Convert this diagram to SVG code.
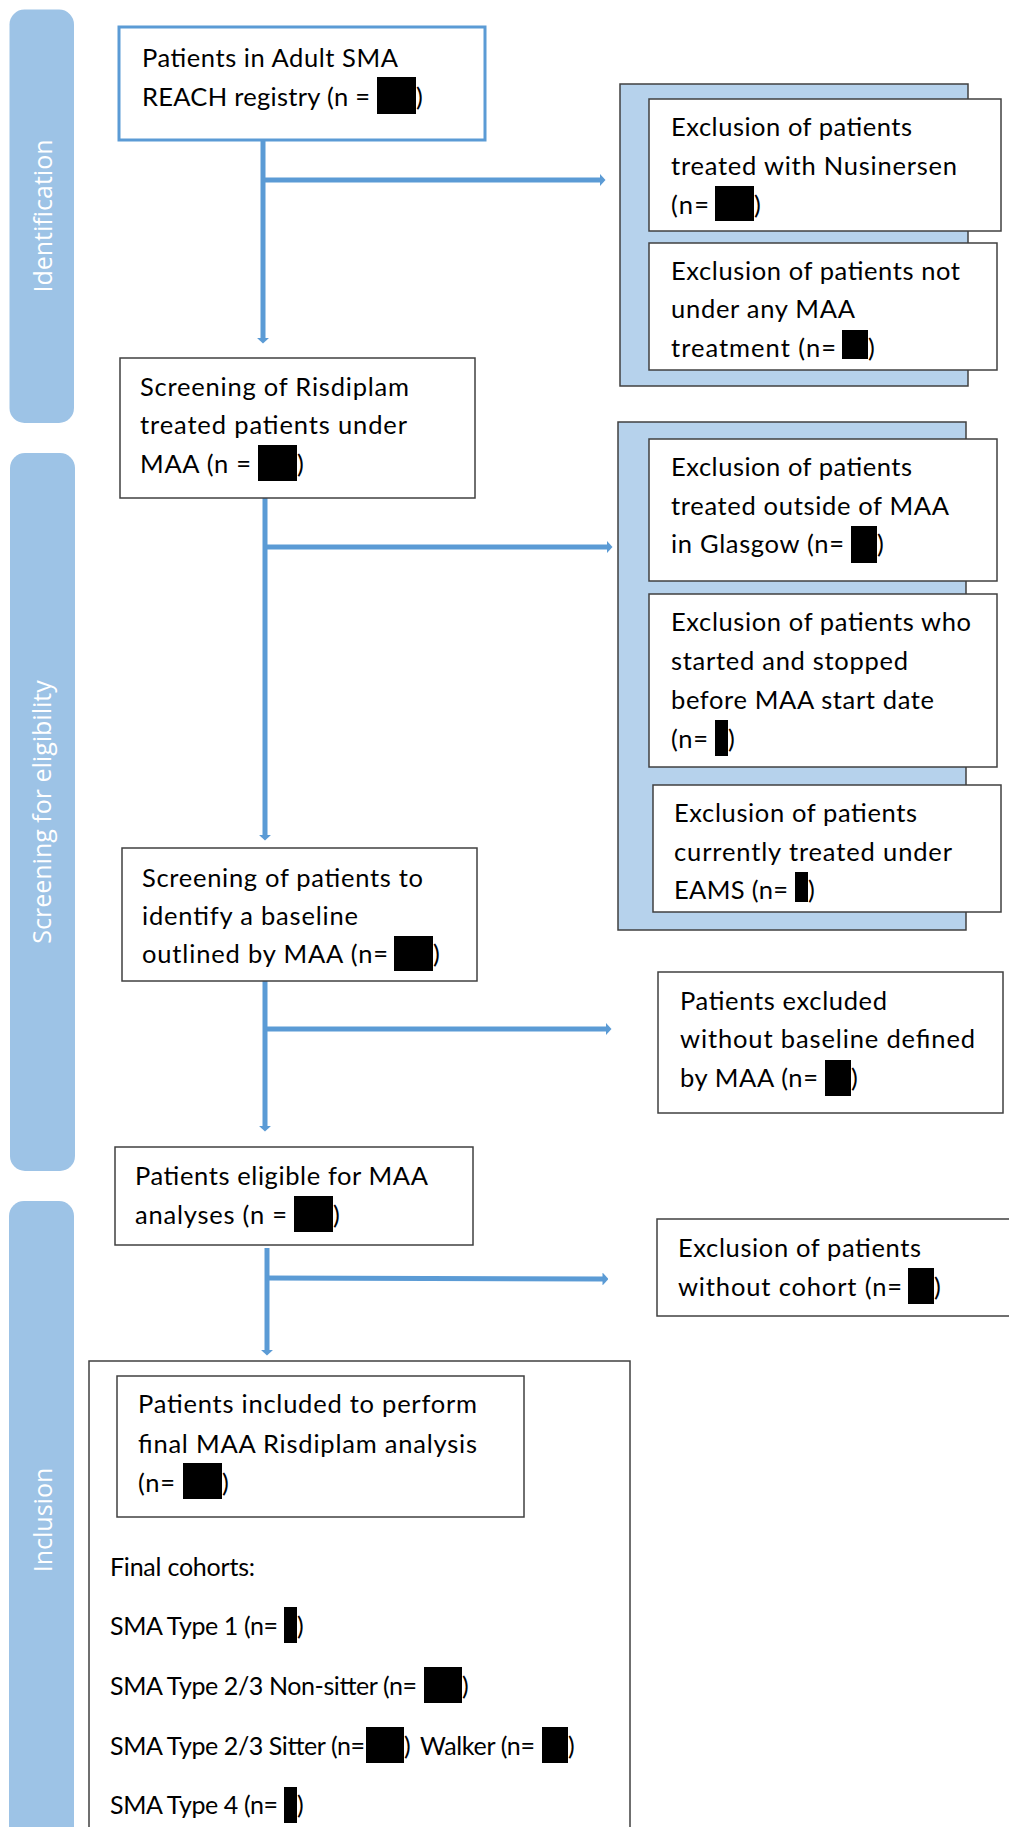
<svg xmlns="http://www.w3.org/2000/svg" width="1009" height="1827" viewBox="0 0 1009 1827">
<style>
.bar{fill:#9DC3E6}
.lbl{font-family:"Open Sans","Liberation Sans",sans-serif;font-size:25px;fill:#ffffff;text-anchor:middle}
.box{fill:#ffffff;stroke:#404040;stroke-width:1.5}
.box1{fill:#ffffff;stroke:#5B9BD5;stroke-width:3}
.grp{fill:#B6D2EC;stroke:#404040;stroke-width:1.5}
.t{font-family:Lato,"Liberation Sans",sans-serif;font-size:25.5px;fill:#000000}
.c{font-family:Lato,"Liberation Sans",sans-serif;font-size:25px;fill:#000000}
.red{fill:#000000}
.con{fill:none;stroke:#5B9BD5;stroke-width:5}
</style>
<defs>
<marker id="ah" viewBox="0 0 6 13" refX="0.5" refY="6.5" markerWidth="6" markerHeight="13" markerUnits="userSpaceOnUse" orient="auto">
<path d="M0,0 L6,6.5 L0,13 Z" fill="#5B9BD5"/>
</marker>
</defs>

<g id="phase-identification">
<rect class="bar" x="9.5" y="9.5" width="64.5" height="413.5" rx="15"/>
<text class="lbl" transform="translate(52,216) rotate(-90)">Identification</text>
</g>
<g id="phase-screening">
<rect class="bar" x="10" y="453" width="65" height="718" rx="15"/>
<text class="lbl" transform="translate(51,812) rotate(-90)">Screening for eligibility</text>
</g>
<g id="phase-inclusion">
<rect class="bar" x="9" y="1201" width="65" height="660" rx="15"/>
<text class="lbl" transform="translate(52,1520) rotate(-90)">Inclusion</text>
</g>

<g id="connectors">
<line class="con" x1="263" y1="140" x2="263" y2="338" marker-end="url(#ah)"/>
<line class="con" x1="261" y1="180" x2="600" y2="180" marker-end="url(#ah)"/>
<line class="con" x1="265" y1="498" x2="265" y2="835" marker-end="url(#ah)"/>
<line class="con" x1="263" y1="547" x2="607" y2="547" marker-end="url(#ah)"/>
<line class="con" x1="265" y1="981" x2="265" y2="1126" marker-end="url(#ah)"/>
<line class="con" x1="263" y1="1029" x2="606" y2="1029" marker-end="url(#ah)"/>
<line class="con" x1="267" y1="1248" x2="267" y2="1350" marker-end="url(#ah)"/>
<line class="con" x1="265" y1="1278" x2="603" y2="1279" marker-end="url(#ah)"/>
</g>

<g id="registry">
<rect class="box1" x="119" y="27" width="366" height="113"/>
<text class="t" x="142" y="67" textLength="256">Patients in Adult SMA</text>
<text class="t" x="142" y="106" textLength="228">REACH registry (n =</text>
<rect class="red" x="377" y="77" width="39" height="37"/>
<text class="t" x="416" y="106">)</text>
</g>

<g id="risdiplam-screening">
<rect class="box" x="120" y="358" width="355" height="140"/>
<text class="t" x="140" y="396" textLength="269">Screening of Risdiplam</text>
<text class="t" x="140" y="434" textLength="267">treated patients under</text>
<text class="t" x="140" y="473" textLength="111">MAA (n =</text>
<rect class="red" x="258" y="445" width="39" height="36"/>
<text class="t" x="297" y="473">)</text>
</g>

<g id="exclusion-group-1">
<rect class="grp" x="620" y="84" width="348" height="302"/>
<g id="excl-nusinersen">
<rect class="box" x="649" y="99" width="352" height="132"/>
<text class="t" x="671" y="136" textLength="241">Exclusion of patients</text>
<text class="t" x="671" y="175" textLength="286">treated with Nusinersen</text>
<text class="t" x="671" y="214" textLength="38">(n=</text>
<rect class="red" x="715" y="186" width="39" height="35"/>
<text class="t" x="754" y="214">)</text>
</g>
<g id="excl-no-maa">
<rect class="box" x="649" y="243" width="348" height="127"/>
<text class="t" x="671" y="280" textLength="289">Exclusion of patients not</text>
<text class="t" x="671" y="318" textLength="184">under any MAA</text>
<text class="t" x="671" y="357" textLength="165">treatment (n=</text>
<rect class="red" x="842" y="330" width="26" height="29"/>
<text class="t" x="868" y="357">)</text>
</g>
</g>

<g id="exclusion-group-2">
<rect class="grp" x="618" y="422" width="348" height="508"/>
<g id="excl-glasgow">
<rect class="box" x="649" y="439" width="348" height="142"/>
<text class="t" x="671" y="476" textLength="241">Exclusion of patients</text>
<text class="t" x="671" y="515" textLength="278">treated outside of MAA</text>
<text class="t" x="671" y="553" textLength="173">in Glasgow (n=</text>
<rect class="red" x="851" y="526" width="26" height="37"/>
<text class="t" x="877" y="553">)</text>
</g>
<g id="excl-stopped">
<rect class="box" x="649" y="594" width="348" height="173"/>
<text class="t" x="671" y="631" textLength="300">Exclusion of patients who</text>
<text class="t" x="671" y="670" textLength="237">started and stopped</text>
<text class="t" x="671" y="709" textLength="263">before MAA start date</text>
<text class="t" x="671" y="748" textLength="37">(n=</text>
<rect class="red" x="715" y="720" width="13" height="36"/>
<text class="t" x="728" y="748">)</text>
</g>
<g id="excl-eams">
<rect class="box" x="653" y="785" width="348" height="127"/>
<text class="t" x="674" y="822" textLength="243">Exclusion of patients</text>
<text class="t" x="674" y="861" textLength="278">currently treated under</text>
<text class="t" x="674" y="899" textLength="114">EAMS (n=</text>
<rect class="red" x="795" y="872" width="13" height="30"/>
<text class="t" x="808" y="899">)</text>
</g>
</g>

<g id="baseline-screening">
<rect class="box" x="122" y="848" width="355" height="133"/>
<text class="t" x="142" y="887" textLength="281">Screening of patients to</text>
<text class="t" x="142" y="925" textLength="216">identify a baseline</text>
<text class="t" x="142" y="963" textLength="246">outlined by MAA (n=</text>
<rect class="red" x="394" y="936" width="39" height="35"/>
<text class="t" x="433" y="963">)</text>
</g>

<g id="excl-no-baseline">
<rect class="box" x="658" y="972" width="345" height="141"/>
<text class="t" x="680" y="1010" textLength="207">Patients excluded</text>
<text class="t" x="680" y="1048" textLength="295">without baseline defined</text>
<text class="t" x="680" y="1087" textLength="138">by MAA (n=</text>
<rect class="red" x="825" y="1060" width="26" height="36"/>
<text class="t" x="851" y="1087">)</text>
</g>

<g id="eligible">
<rect class="box" x="115" y="1147" width="358" height="98"/>
<text class="t" x="135" y="1185" textLength="293">Patients eligible for MAA</text>
<text class="t" x="135" y="1224" textLength="152">analyses (n =</text>
<rect class="red" x="294" y="1196" width="39" height="36"/>
<text class="t" x="333" y="1224">)</text>
</g>

<g id="excl-no-cohort">
<rect class="box" x="657" y="1219" width="360" height="97"/>
<text class="t" x="678" y="1257" textLength="243">Exclusion of patients</text>
<text class="t" x="678" y="1296" textLength="224">without cohort (n=</text>
<rect class="red" x="908" y="1268" width="26" height="36"/>
<text class="t" x="934" y="1296">)</text>
</g>

<g id="inclusion">
<rect class="box" x="89" y="1361" width="541" height="500"/>
<g id="final-analysis">
<rect class="box" x="117" y="1376" width="407" height="141"/>
<text class="t" x="138" y="1413" textLength="339">Patients included to perform</text>
<text class="t" x="138" y="1453" textLength="339">final MAA Risdiplam analysis</text>
<text class="t" x="138" y="1492" textLength="37">(n=</text>
<rect class="red" x="183" y="1463" width="39" height="36"/>
<text class="t" x="222" y="1492">)</text>
</g>
<g id="final-cohorts">
<text class="c" x="110" y="1576" textLength="145">Final cohorts:</text>
<text class="c" x="110" y="1635" textLength="168">SMA Type 1 (n=</text>
<rect class="red" x="284" y="1607" width="13" height="36"/>
<text class="c" x="297" y="1635">)</text>
<text class="c" x="110" y="1695" textLength="307">SMA Type 2/3 Non-sitter (n=</text>
<rect class="red" x="424" y="1667" width="38" height="36"/>
<text class="c" x="462" y="1695">)</text>
<text class="c" x="110" y="1755" textLength="255">SMA Type 2/3 Sitter (n=</text>
<rect class="red" x="366" y="1727" width="38" height="36"/>
<text class="c" x="404" y="1755">)</text>
<text class="c" x="420" y="1755" textLength="115">Walker (n=</text>
<rect class="red" x="542" y="1727" width="26" height="36"/>
<text class="c" x="568" y="1755">)</text>
<text class="c" x="110" y="1814" textLength="168">SMA Type 4 (n=</text>
<rect class="red" x="284" y="1787" width="13" height="36"/>
<text class="c" x="297" y="1814">)</text>
</g>
</g>
</svg>
